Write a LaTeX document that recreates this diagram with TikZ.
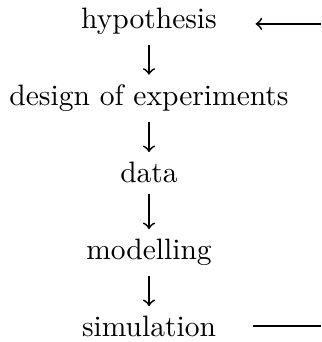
\documentclass[tikz,border=0pt]{standalone}
\begin{document}
\begin{tikzpicture}
	    \useasboundingbox (0,0) rectangle (108.8pt,-115.9pt);
	    \foreach \name/\txt [count=\i from 0] in {hyp/hypothesis, doe/design of experiments, data/data, model/modelling, sim/simulation}
		\node[anchor=base] (\name) at (50.5pt,{-9.8pt-\i*26.1pt}) {\txt};
		
	    \coordinate (fbin) at (108.8pt,-8.1pt);
	    \coordinate (fbout) at (108.8pt,-110.5pt);
		
	    \draw[->, semithick]  (hyp) -- (doe);
	    \draw[->, semithick]  (doe) -- (data);
	    \draw[->, semithick]  (data) -- (model);
	    \draw[->, semithick]  (model) -- (sim);
	    \draw[->, semithick, shorten >=9.6pt]  (fbin) -- (fbin -| hyp.east);
	    \draw[semithick, shorten <=9.1pt]  (fbout -| sim.east) -- (fbout);
	\end{tikzpicture}
\end{document}
